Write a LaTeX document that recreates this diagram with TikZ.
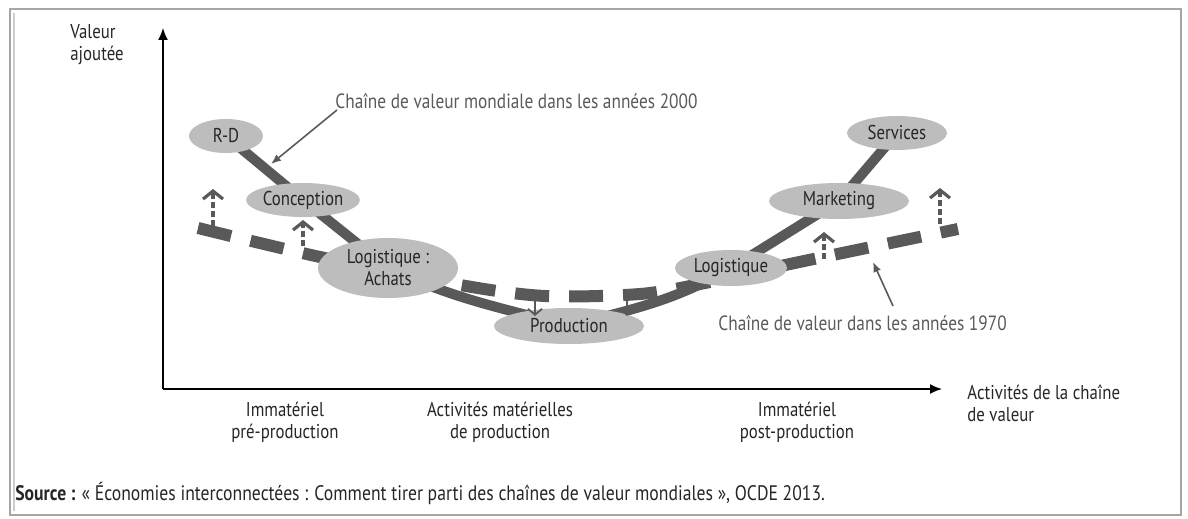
\documentclass[tikz,border=0pt]{standalone}
\usepackage{fontspec}
\setmainfont{PT Sans}[FakeStretch=0.84]
\usetikzlibrary{arrows.meta,shapes.geometric,backgrounds}
\definecolor{ellfill}{HTML}{BDBDBD}
\definecolor{chain}{HTML}{595959}
\definecolor{labgray}{HTML}{5A5A5A}
\tikzset{
  stage/.style={ellipse,fill=ellfill,inner sep=0pt,font=\fontsize{10}{11}\selectfont,text=black!85,align=center},
  solidchain/.style={chain,line width=5pt},
  oldchain/.style={chain,line width=6pt,dash pattern=on 17pt off 10pt},
  uparrow/.style={chain,line width=2pt,dash pattern=on 3pt off 1.5pt,-{Straight Barb[length=4pt,width=10pt,line width=1.6pt]}},
  downarrow/.style={chain,line width=0.9pt,-{Straight Barb[length=3pt,width=7pt,line width=0.9pt]}},
  axis/.style={black,line width=0.8pt,-{Latex[length=6pt,width=5pt]}},
  note/.style={labgray,line width=0.8pt,-{Latex[length=5pt,width=4pt]}},
  lab/.style={font=\fontsize{10}{11}\selectfont,text=black!85,align=center,inner sep=0pt},
  notelab/.style={font=\fontsize{10.3}{11}\selectfont,text=labgray,inner sep=0pt}
}
\begin{document}
\begin{tikzpicture}[x=0.5pt,y=-0.5pt]
\useasboundingbox (0,0) rectangle (1188,519);
% frame
\draw[gray!70,line width=1.2pt] (10,9) rectangle (1181,515);
\draw[gray!40,line width=0.6pt] (14,13) -- (14,511);
% axes
\coordinate (O) at (163,389);
\coordinate (ytop) at (163,28);
\coordinate (xend) at (942,389);
\draw[axis] (O) -- (ytop);
\draw[axis] (O) -- (xend);
\node[lab,align=left,anchor=north west] (ylab) at (70,24) {Valeur\\ajoutée};
\node[lab,align=left,anchor=north west] (xlab) at (967,384) {Activités de la chaîne\\de valeur};
\node[lab,anchor=north] (c1) at (285,402) {Immatériel\\pré-production};
\node[lab,anchor=north] (c2) at (500,402) {Activités matérielles\\de production};
\node[lab,anchor=north] (c3) at (797,402) {Immatériel\\post-production};
% stages
\node[stage,minimum width=37pt,minimum height=17pt] (rd) at (226,136) {R-D};
\node[stage,minimum width=50pt,minimum height=17pt] (conc) at (303,200) {Conception};
\node[stage,minimum width=70pt,minimum height=30pt] (achat) at (388,268) {Logistique :\\Achats};
\node[stage,minimum width=75pt,minimum height=18pt] (prod) at (569,326) {Production};
\node[stage,minimum width=56pt,minimum height=18pt] (logi) at (731,268) {Logistique};
\node[stage,minimum width=70pt,minimum height=18pt] (mkt) at (839,201) {Marketing};
\node[stage,minimum width=50pt,minimum height=17pt] (serv) at (897,133) {Services};
\begin{scope}[on background layer]
  \draw[solidchain] (rd.center) -- (conc.center) -- (achat.center);
  \draw[solidchain] (achat.center) to[out=-25,in=165] (prod.center);
  \draw[solidchain] (prod.center) to[out=15,in=-150] (logi.center) -- (mkt.center) -- (serv.center);
  \draw[oldchain] plot[smooth,tension=0.5] coordinates {(198,228) (320,257) (460,285) (545,296) (640,294) (705,283) (790,264) (958,229)};
\end{scope}
% shift arrows
\coordinate (u1a) at (213,226); \coordinate (u1b) at (213,189);
\coordinate (u2a) at (303,246); \coordinate (u2b) at (303,220);
\coordinate (u3a) at (824,259); \coordinate (u3b) at (824,232);
\coordinate (u4a) at (940,224); \coordinate (u4b) at (940,188);
\draw[uparrow] (u1a) -- (u1b);
\draw[uparrow] (u2a) -- (u2b);
\draw[uparrow] (u3a) -- (u3b);
\draw[uparrow] (u4a) -- (u4b);
\coordinate (d1a) at (535,298); \coordinate (d1b) at (535,316);
\coordinate (d2a) at (627,298); \coordinate (d2b) at (627,316);
\draw[downarrow] (d1a) -- (d1b);
\draw[downarrow] (d2a) -- (d2b);
% annotations
\node[notelab,anchor=west] (n2000) at (335,101) {Chaîne de valeur mondiale dans les années 2000};
\coordinate (p2000) at (271,164);
\draw[note] (337,110) -- (p2000);
\node[notelab,anchor=west] (n1970) at (718,323) {Chaîne de valeur dans les années 1970};
\coordinate (p1970) at (873,262);
\draw[note] (893,306) -- (p1970);
% source
\node[lab,anchor=west,align=left,font=\fontsize{10.5}{12}\selectfont] (src) at (15,493) {\textbf{Source :} « Économies interconnectées : Comment tirer parti des chaînes de valeur mondiales », OCDE 2013.};
\end{tikzpicture}
\end{document}
